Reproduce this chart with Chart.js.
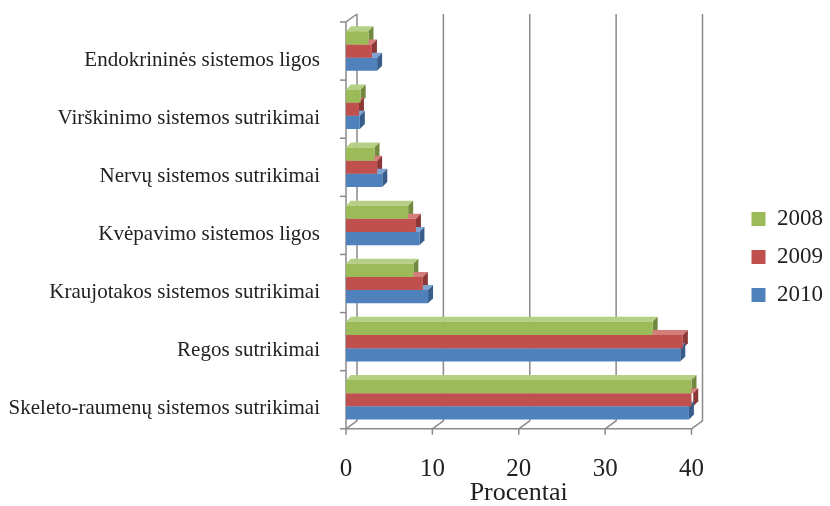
<!DOCTYPE html>
<html>
<head>
<meta charset="utf-8">
<script src="https://cdn.jsdelivr.net/npm/chart.js@4.4.0/dist/chart.umd.min.js"></script>
<style>
  body { margin: 0; background: #fff; }
  #wrap { width: 830px; height: 506px; }
</style>
</head>
<body>
<div id="wrap"><canvas id="myChart"></canvas></div>
<script>
// categories, top to bottom
const categories = [
  'Endokrininės sistemos ligos',
  'Virškinimo sistemos sutrikimai',
  'Nervų sistemos sutrikimai',
  'Kvėpavimo sistemos ligos',
  'Kraujotakos sistemos sutrikimai',
  'Regos sutrikimai',
  'Skeleto-raumenų sistemos sutrikimai'
];
const years = ['2008', '2009', '2010'];
const values2008 = [2.6, 1.7, 3.3, 7.2, 7.8, 35.5, 40.0];
const values2009 = [3.0, 1.5, 3.6, 8.1, 8.9, 39.0, 40.2];
const values2010 = [3.6, 1.6, 4.2, 8.5, 9.5, 38.7, 39.7];
const xTicks = [0, 10, 20, 30, 40];

const colors = ['#9BBB59', '#C0504D', '#4F81BD'];
const sideColors = ['#71893F', '#8C3836', '#385D8A'];
const topColors = ['#B5CF84', '#D47E7B', '#7FA3D1'];

const serif = '"Liberation Serif", "Times New Roman", serif';

// legend shift (the original legend sits a bit off the default spot)
const legendDX = 45, legendDY = -7;

// pseudo 3D: back wall grid + bar depth faces
const depthPlugin = {
  id: 'depth',
  beforeDatasetsDraw(chart) {
    const ctx = chart.ctx;
    const area = chart.chartArea;
    const x = chart.scales.x;
    const wx = 11, wy = -8;
    ctx.save();
    ctx.strokeStyle = '#8a8a8a';
    ctx.lineWidth = 1.5;
    // back wall vertical lines + floor diagonals
    xTicks.forEach(function (t) {
      const px = x.getPixelForValue(t);
      ctx.beginPath();
      ctx.moveTo(px + wx, area.top + wy);
      ctx.lineTo(px + wx, area.bottom + wy);
      ctx.lineTo(px, area.bottom);
      ctx.stroke();
    });
    // left front axis + top diagonal + floor front edge
    ctx.beginPath();
    ctx.moveTo(area.left + wx, area.top + wy);
    ctx.lineTo(area.left, area.top);
    ctx.lineTo(area.left, area.bottom);
    ctx.lineTo(x.getPixelForValue(40), area.bottom);
    ctx.stroke();
    // category tick marks on left
    for (let i = 0; i <= categories.length; i++) {
      const py = area.top + (area.bottom - area.top) * i / categories.length;
      ctx.beginPath();
      ctx.moveTo(area.left - 6, py);
      ctx.lineTo(area.left, py);
      ctx.stroke();
    }
    // x tick marks
    xTicks.forEach(function (t) {
      const px = x.getPixelForValue(t);
      ctx.beginPath();
      ctx.moveTo(px, area.bottom);
      ctx.lineTo(px, area.bottom + 6);
      ctx.stroke();
    });
    // bar side + top faces
    const d = 5;
    chart.data.datasets.forEach(function (ds, di) {
      const meta = chart.getDatasetMeta(di);
      meta.data.forEach(function (bar) {
        const top = bar.y - bar.height / 2;
        const bottom = bar.y + bar.height / 2;
        ctx.fillStyle = topColors[di];
        ctx.beginPath();
        ctx.moveTo(bar.base, top);
        ctx.lineTo(bar.base + d, top - d);
        ctx.lineTo(bar.x + d, top - d);
        ctx.lineTo(bar.x, top);
        ctx.closePath();
        ctx.fill();
        ctx.fillStyle = sideColors[di];
        ctx.beginPath();
        ctx.moveTo(bar.x, top);
        ctx.lineTo(bar.x + d, top - d);
        ctx.lineTo(bar.x + d, bottom - d);
        ctx.lineTo(bar.x, bottom);
        ctx.closePath();
        ctx.fill();
      });
    });
    ctx.restore();
  },
  beforeDraw(chart) {
    const lg = chart.legend;
    if (lg && !lg._moved) {
      lg.left += legendDX;
      lg.right += legendDX;
      lg.top += legendDY;
      lg.bottom += legendDY;
      lg._moved = true;
    }
  },
  afterLayout(chart) {
    if (chart.legend) chart.legend._moved = false;
  }
};

const data = {
  labels: categories,
  datasets: [
    { label: years[0], data: values2008, backgroundColor: colors[0] },
    { label: years[1], data: values2009, backgroundColor: colors[1] },
    { label: years[2], data: values2010, backgroundColor: colors[2] }
  ]
};

const config = {
  type: 'bar',
  data: data,
  options: {
    indexAxis: 'y',
    responsive: true,
    maintainAspectRatio: false,
    animation: false,
    datasets: {
      bar: { categoryPercentage: 0.68, barPercentage: 1.0 }
    },
    layout: { padding: { top: 22, left: 6, right: 42, bottom: 0 } },
    scales: {
      x: {
        min: 0,
        max: 40,
        afterBuildTicks(axis) {
          axis.ticks = xTicks.map(function (v) { return { value: v }; });
        },
        grid: { display: false },
        border: { display: false },
        ticks: { color: '#222', font: { family: serif, size: 25 }, padding: 18 },
        title: {
          display: true,
          text: 'Procentai',
          color: '#222',
          font: { family: serif, size: 26 },
          padding: { top: -25, bottom: -3 }
        }
      },
      y: {
        afterFit(axis) {
          axis.width = 340;
          axis.paddingTop = 0;
          axis.paddingBottom = 0;
        },
        grid: { display: false },
        border: { display: false },
        ticks: { color: '#222', font: { family: serif, size: 21 }, padding: 18, labelOffset: 9 }
      }
    },
    plugins: {
      legend: {
        position: 'right',
        labels: {
          color: '#222',
          font: { family: serif, size: 23 },
          boxWidth: 14,
          boxHeight: 14,
          padding: 15
        }
      },
      tooltip: { enabled: false }
    }
  },
  plugins: [depthPlugin]
};

var ctx = document.getElementById('myChart').getContext('2d');
var myChart = new Chart(ctx, config);
</script>
</body>
</html>
